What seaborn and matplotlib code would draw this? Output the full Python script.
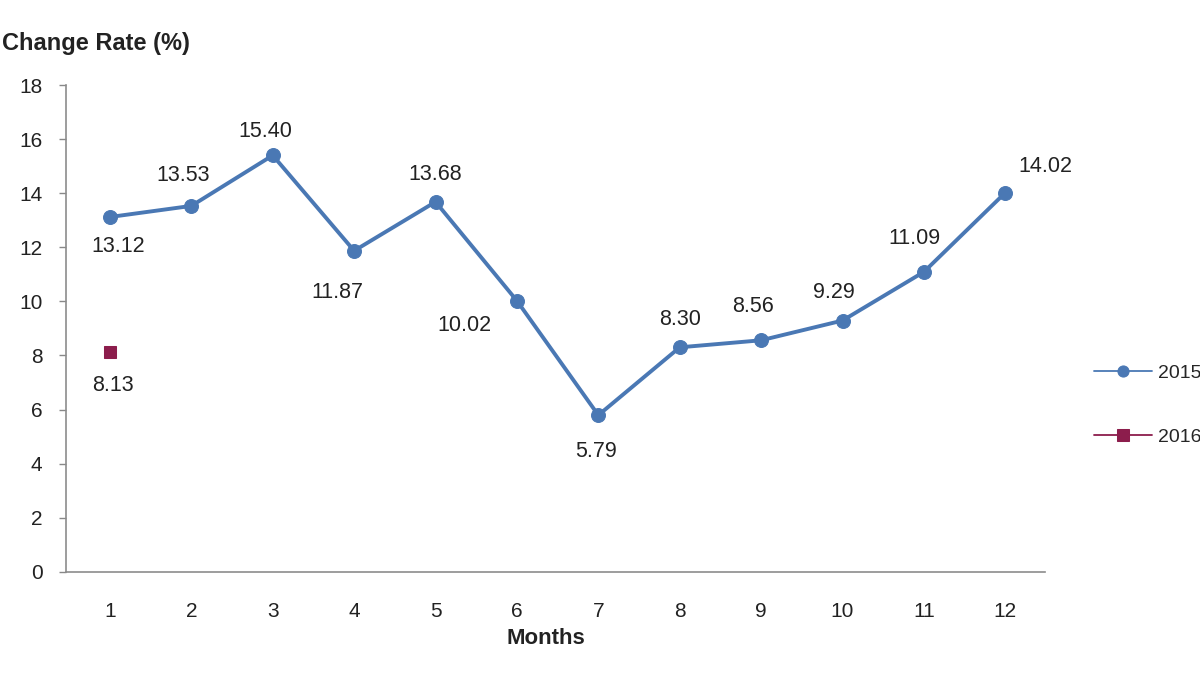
import matplotlib
matplotlib.use("Agg")
import matplotlib.pyplot as plt
import seaborn as sns
import pandas as pd

months = list(range(1, 13))
rate_2015 = [13.12, 13.53, 15.40, 11.87, 13.68, 10.02, 5.79, 8.30, 8.56, 9.29, 11.09, 14.02]
months_2016 = [1]
rate_2016 = [8.13]

# label offsets (points) relative to each marker
offs_2015 = [(6, -21), (-6, 22), (-5, 17), (-12, -30), (0, 20), (-38, -18),
             (-2, -26), (0, 20), (-6, 24), (-6, 20), (-7, 24), (29, 19)]
offs_2016 = [(2, -24)]

blue = "#4a78b4"
maroon = "#8c1d4c"

sns.set_style("white")
plt.rcParams["font.family"] = ["Liberation Sans", "DejaVu Sans"]

df15 = pd.DataFrame({"month": months, "rate": rate_2015})
df16 = pd.DataFrame({"month": months_2016, "rate": rate_2016})

fig = plt.figure(figsize=(12, 6.75), dpi=100)
ax = fig.add_axes([0.055, 0.153, 0.816, 0.721])

sns.lineplot(data=df15, x="month", y="rate", ax=ax, color=blue, marker="o",
             markersize=10, linewidth=2.8, markeredgecolor=blue, label="2015")
sns.lineplot(data=df16, x="month", y="rate", ax=ax, color=maroon, marker="s",
             markersize=9, linewidth=2.8, markeredgecolor=maroon, label="2016")

for m, v, o in zip(months, rate_2015, offs_2015):
    ax.annotate(f"{v:.2f}", (m, v), xytext=o, textcoords="offset points",
                ha="center", va="center", fontsize=15.5, color="#222222")
for m, v, o in zip(months_2016, rate_2016, offs_2016):
    ax.annotate(f"{v:.2f}", (m, v), xytext=o, textcoords="offset points",
                ha="center", va="center", fontsize=15.5, color="#222222")

ax.set_xlim(0.46, 12.49)
ax.set_ylim(0, 18)
ax.set_xticks(months)
ax.set_yticks(range(0, 19, 2))
ax.tick_params(axis="x", length=0, labelsize=15, pad=22, colors="#222222")
ax.tick_params(axis="y", length=5, width=1, labelsize=15,
               pad=12, colors="#222222", left=True, direction="out")
ax.yaxis.set_tick_params(color="#888888")
for s in ["top", "right"]:
    ax.spines[s].set_visible(False)
for s in ["left", "bottom"]:
    ax.spines[s].set_color("#8c8c8c")
    ax.spines[s].set_linewidth(1.2)

ax.set_xlabel("Months", fontsize=16, fontweight="bold", color="#222222")
ax.xaxis.set_label_coords(0.49, -0.115)
ax.set_ylabel("")
fig.text(0.002, 0.935, "Change Rate (%)", fontsize=17, fontweight="bold",
         color="#222222", ha="left", va="center")

leg = ax.legend(loc="center left", bbox_to_anchor=(0.897, 0.40),
                bbox_transform=fig.transFigure, frameon=False, fontsize=14,
                labelspacing=2.4, handlelength=3.0, handletextpad=0.3)
for h in leg.get_lines():
    h.set_linewidth(1.3)
    h.set_markersize(8)

fig.savefig("out.png", dpi=100)
